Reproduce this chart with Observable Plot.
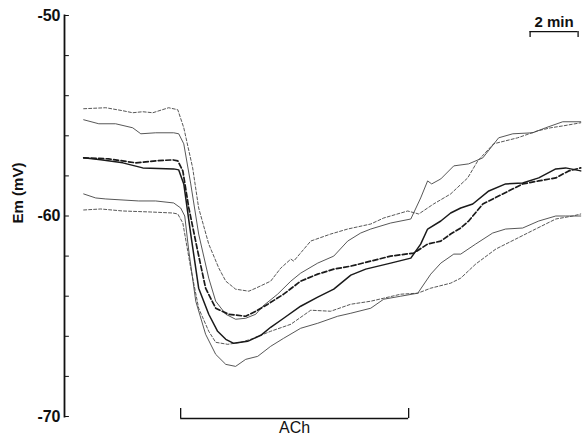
<!DOCTYPE html>
<html><head><meta charset="utf-8">
<script src="https://cdn.jsdelivr.net/npm/d3@7"></script>
<script src="https://cdn.jsdelivr.net/npm/@observablehq/plot@0.6"></script>
<style>body{margin:0;background:#fff;}</style>
</head><body><div id="chart"></div>
<script>
// time in minutes, membrane potential in mV
const upperDashed = [[0,-54.65],[0.92,-54.6],[1.63,-54.75],[2.04,-54.85],[2.46,-54.8],[2.88,-54.85],[3.54,-54.6],[3.92,-54.7],[4.17,-55.6],[4.54,-57.6],[4.79,-59.6],[5.21,-61.4],[5.63,-62.6],[5.92,-63.25],[6.33,-63.65],[6.88,-63.75],[7.17,-63.6],[7.79,-63.25],[8.21,-62.6],[8.63,-62.15],[8.75,-62.25],[9.46,-61.25],[10.29,-60.9],[11.0,-60.65],[11.96,-60.4],[12.5,-60.1],[13.5,-59.75],[13.96,-59.9],[14.58,-59.4],[15.29,-58.9],[16.0,-58.1],[16.42,-57.25],[17.08,-56.4],[18.08,-56.1],[18.92,-55.75],[19.46,-55.6],[20.0,-55.5],[20.71,-55.35]];
const upperSolid = [[0,-55.2],[0.63,-55.4],[1.33,-55.4],[2.04,-55.6],[2.38,-55.9],[3.0,-55.85],[3.75,-55.85],[3.96,-55.9],[4.17,-56.4],[4.46,-58.4],[4.79,-60.9],[5.21,-63.1],[5.5,-64.25],[5.92,-64.9],[6.33,-65.15],[6.75,-65.1],[7.17,-64.9],[7.46,-64.5],[8.08,-63.9],[8.63,-63.25],[9.04,-62.85],[9.75,-62.35],[10.42,-62.0],[11.0,-61.25],[11.54,-60.85],[11.96,-60.65],[12.79,-60.35],[13.63,-60.15],[14.04,-59.1],[14.33,-58.25],[14.5,-58.4],[14.88,-58.15],[15.42,-57.5],[16.04,-57.4],[16.63,-57.1],[17.29,-56.1],[17.88,-55.9],[18.71,-55.85],[19.25,-55.6],[19.96,-55.3],[20.71,-55.3]];
const meanDashed = [[0,-57.1],[1.04,-57.15],[2.17,-57.35],[3.0,-57.25],[3.71,-57.2],[3.92,-57.25],[4.13,-57.75],[4.38,-59.6],[4.75,-61.75],[5.08,-63.6],[5.5,-64.6],[6.04,-64.9],[6.75,-65.0],[7.17,-64.75],[7.67,-64.4],[8.33,-63.9],[9.04,-63.25],[9.75,-62.9],[10.42,-62.65],[11.13,-62.5],[11.96,-62.25],[12.79,-62.0],[13.75,-61.85],[14.33,-61.4],[14.88,-61.25],[15.29,-60.9],[15.71,-60.6],[16.04,-60.25],[16.63,-59.4],[17.46,-58.9],[18.29,-58.4],[18.96,-58.25],[19.67,-58.1],[20.21,-57.75],[20.71,-57.6]];
const meanSolid = [[0,-57.1],[0.71,-57.2],[1.63,-57.35],[2.46,-57.6],[3.75,-57.65],[3.96,-57.7],[4.17,-58.4],[4.46,-60.9],[4.79,-63.6],[5.21,-64.9],[5.58,-65.75],[5.92,-66.15],[6.25,-66.35],[6.83,-66.25],[7.38,-65.95],[7.79,-65.55],[8.33,-65.1],[9.04,-64.5],[9.75,-64.05],[10.42,-63.65],[11.13,-62.95],[11.75,-62.65],[12.79,-62.35],[13.63,-62.1],[14.04,-61.4],[14.33,-60.65],[14.88,-60.25],[15.29,-59.85],[15.71,-59.6],[16.21,-59.4],[16.88,-58.75],[17.58,-58.4],[18.29,-58.35],[18.96,-58.1],[19.67,-57.65],[20.08,-57.6],[20.71,-57.75]];
const lowerSolid = [[0,-58.9],[0.5,-59.1],[0.92,-59.15],[2.29,-59.25],[3.0,-59.25],[3.75,-59.35],[4.04,-59.6],[4.21,-60.0],[4.38,-61.75],[4.67,-64.25],[5.08,-65.9],[5.5,-66.9],[5.92,-67.4],[6.33,-67.5],[6.75,-67.15],[7.25,-67.0],[7.79,-66.5],[8.33,-66.1],[9.04,-65.6],[9.75,-65.35],[10.58,-65.0],[11.13,-64.85],[11.96,-64.6],[12.5,-64.15],[13.21,-64.0],[13.92,-63.85],[14.46,-62.9],[14.88,-62.35],[15.42,-61.9],[15.71,-61.9],[16.33,-61.4],[17.04,-60.85],[17.58,-60.65],[18.29,-60.6],[18.96,-60.25],[19.67,-60.0],[20.08,-60.0],[20.71,-60.0]];
const lowerDashed = [[0,-59.7],[0.71,-59.65],[1.63,-59.75],[2.79,-59.8],[3.71,-59.85],[3.92,-59.9],[4.13,-60.35],[4.46,-62.6],[4.79,-64.6],[5.21,-65.75],[5.5,-66.3],[6.0,-66.4],[6.54,-66.3],[6.96,-66.15],[7.79,-65.75],[8.63,-65.4],[9.46,-64.7],[10.29,-64.75],[11.13,-64.4],[11.96,-64.25],[12.5,-64.1],[13.21,-63.9],[13.92,-63.85],[14.46,-63.6],[15.29,-63.35],[15.71,-63.1],[16.33,-62.4],[17.17,-61.65],[18.0,-61.15],[18.83,-60.65],[19.67,-60.15],[20.38,-60.0],[20.71,-59.9]];

const yTickValues = [-50, -60, -70];
const yTickLabels = ["-50", "-60", "-70"];
const yMinorTicks = [-70, -68, -66, -64, -62, -60, -58, -56, -54, -52, -50];
const yLabel = "Em (mV)";
const achLabel = "ACh";
const achStart = 4.04, achEnd = 13.54;      // minutes
const scaleBarLabel = "2 min";
const scaleBarStart = 18.6, scaleBarLength = 2; // minutes
const xDomain = [-0.8, 20.7];
const yDomain = [-70, -50];

const styles = [
  {pts: upperDashed, dash: "3,2", w: 0.9, c: "#444"},
  {pts: upperSolid, dash: null, w: 0.9, c: "#444"},
  {pts: lowerSolid, dash: null, w: 0.9, c: "#444"},
  {pts: lowerDashed, dash: "3,2", w: 0.9, c: "#444"},
  {pts: meanSolid, dash: null, w: 1.5, c: "#1a1a1a"},
  {pts: meanDashed, dash: "5,2.5", w: 1.7, c: "#1a1a1a"}
];

const tickShape = {draw(ctx, l) { ctx.moveTo(0, 0); ctx.lineTo(0, -l); }};

const plot = Plot.plot({
  width: 582, height: 437,
  marginLeft: 64, marginRight: 2, marginTop: 15, marginBottom: 21,
  x: {domain: xDomain, axis: null},
  y: {domain: yDomain, axis: null},
  style: {fontFamily: "'Liberation Sans', Arial, Helvetica, sans-serif", background: "#fff"},
  marks: [
    Plot.frame({anchor: "left", strokeWidth: 1.8, stroke: "#111"}),
    Plot.vector(yMinorTicks, {y: d => d, frameAnchor: "left", rotate: 90, length: 4, anchor: "start", shape: tickShape, stroke: "#111", strokeWidth: 1}),
    Plot.axisY({ticks: yTickValues, tickFormat: (d) => yTickLabels[yTickValues.indexOf(d)], tickSize: 0, tickPadding: 4, label: null, fontSize: 16, fontWeight: "bold", fill: "#111"}),
    Plot.text([yLabel], {frameAnchor: "left", dx: -46, dy: -23, rotate: -90, textAnchor: "middle", fontSize: 15, fontWeight: "bold", fill: "#111", ariaLabel: "ylabel"}),
    ...styles.map(s => Plot.line(s.pts, {x: d => d[0], y: d => d[1], stroke: s.c, strokeWidth: s.w, strokeDasharray: s.dash, strokeLinejoin: "round"})),
    // ACh bracket
    Plot.ruleY([-70.1], {x1: achStart, x2: achEnd, stroke: "#111", strokeWidth: 1.3, clip: false}),
    Plot.ruleX([achStart, achEnd], {y1: -70.1, y2: -69.6, stroke: "#111", strokeWidth: 1.3}),
    Plot.text([achLabel], {x: (achStart + achEnd) / 2, y: -70.1, dy: 3, lineAnchor: "top", fontSize: 16, fill: "#111"}),
    // 2 min scale bar
    Plot.ruleY([-50.8], {x1: scaleBarStart, x2: scaleBarStart + scaleBarLength, stroke: "#111", strokeWidth: 1.3}),
    Plot.ruleX([scaleBarStart, scaleBarStart + scaleBarLength], {y1: -50.8, y2: -51.1, stroke: "#111", strokeWidth: 1.3}),
    Plot.text([scaleBarLabel], {x: scaleBarStart + scaleBarLength / 2, y: -50.8, dy: -5, lineAnchor: "bottom", fontSize: 15, fontWeight: "bold", fill: "#111"})
  ]
});
document.getElementById("chart").appendChild(plot);

// subscript m in the y label
const t = d3.select(plot).select('g[aria-label="ylabel"] text');
if (!t.empty()) {
  t.text(null);
  t.append("tspan").text("E");
  t.append("tspan").attr("dy", "0.3em").attr("font-size", 12).text("m");
  t.append("tspan").attr("dy", "-0.3em").text(" (mV)");
}
</script>
</body></html>
